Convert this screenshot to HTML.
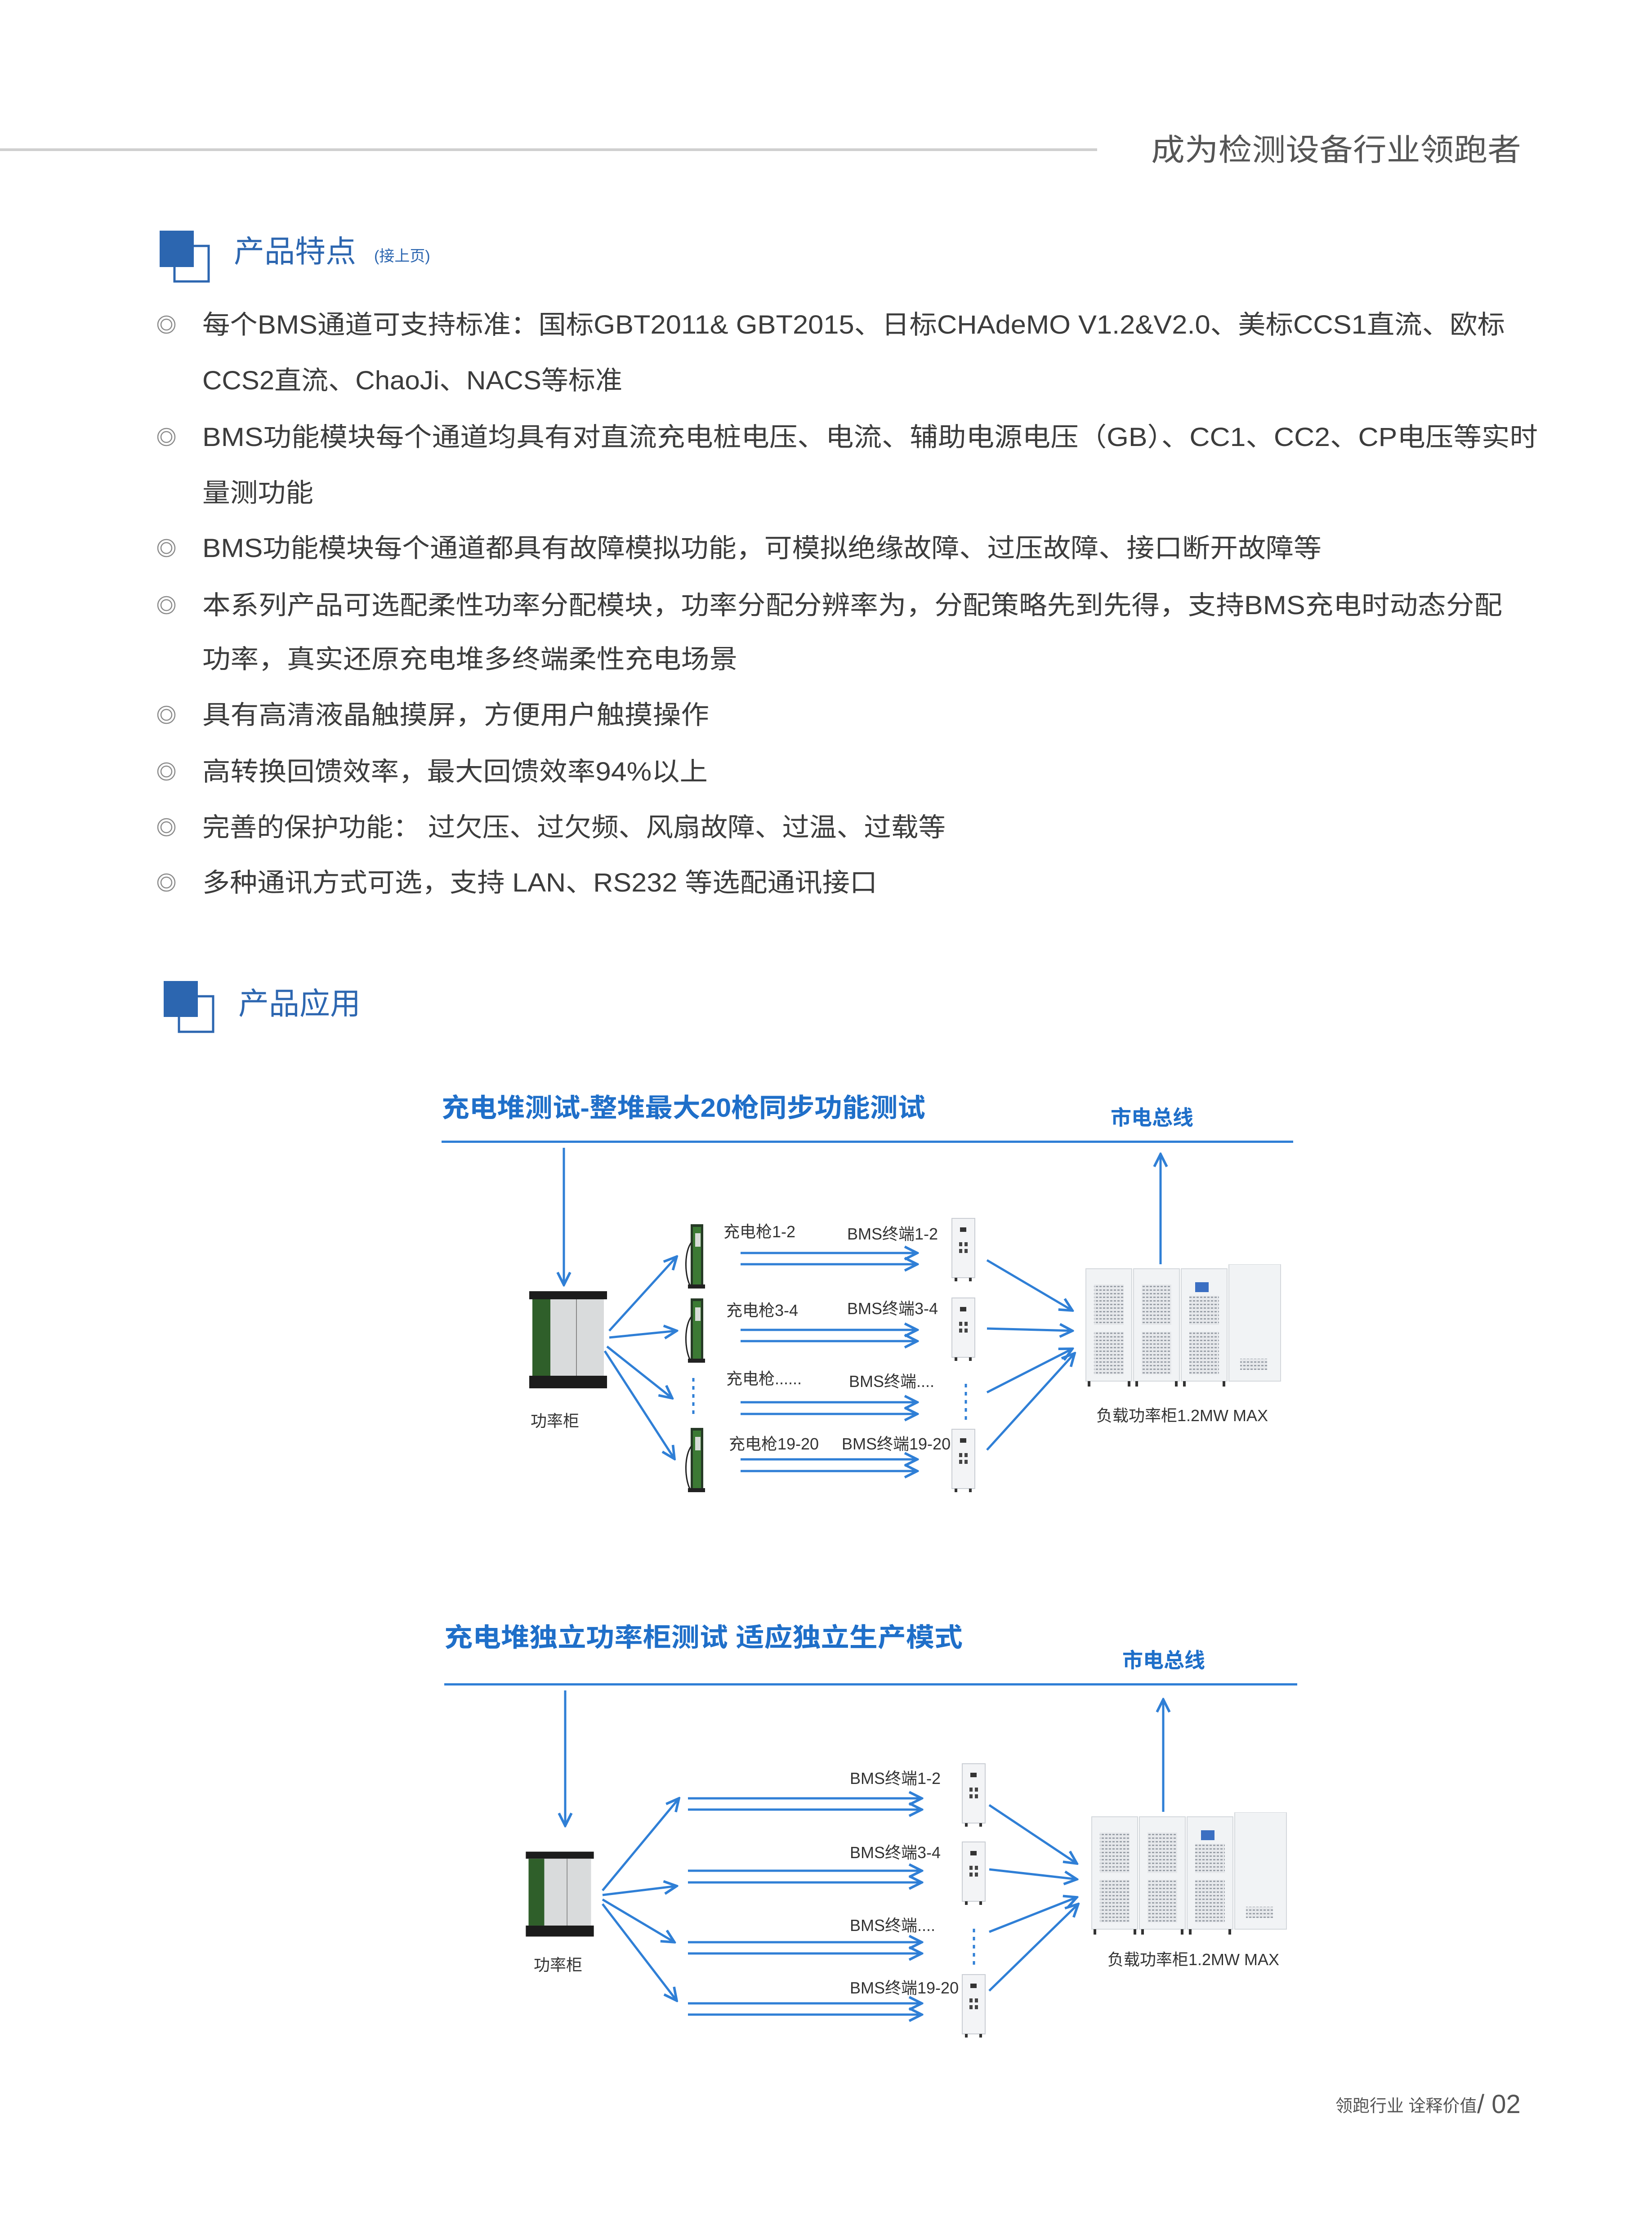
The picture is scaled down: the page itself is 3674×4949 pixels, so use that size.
<!DOCTYPE html>
<html><head><meta charset="utf-8"><style>
html,body{margin:0;padding:0;background:#fff}
svg{display:block}
text{font-family:"Liberation Sans","Noto Sans CJK SC",sans-serif}
</style></head><body>
<svg width="3674" height="4949" viewBox="0 0 3674 4949" xmlns="http://www.w3.org/2000/svg">
<defs>
<marker id="ah" viewBox="0 0 10 10" refX="9" refY="5" markerWidth="7" markerHeight="7" orient="auto" markerUnits="strokeWidth">
<path d="M1,1 L9,5 L1,9" fill="none" stroke="#2f7fd6" stroke-width="1.6"/></marker>
<pattern id="grid" width="8" height="8" patternUnits="userSpaceOnUse">
<rect width="8" height="8" fill="#e6e8eb"/><rect width="5" height="3" fill="#9aa0a8"/></pattern>
<symbol id="chg" viewBox="0 0 48 143" width="48" height="143">
<rect x="16" y="0" width="28" height="143" fill="#263a26"/>
<rect x="21" y="6" width="18" height="128" fill="#3c7a34"/>
<rect x="26" y="20" width="12" height="30" fill="#d8dcd8"/>
<path d="M18,40 C2,60 2,110 14,135" fill="none" stroke="#222" stroke-width="3"/>
<rect x="10" y="134" width="38" height="9" fill="#222"/>
</symbol>
<symbol id="bms" viewBox="0 0 55 142" width="55" height="142">
<rect x="2" y="2" width="51" height="132" fill="#f3f4f6" stroke="#c9cdd3" stroke-width="2"/>
<rect x="20" y="22" width="14" height="10" fill="#333"/>
<rect x="18" y="55" width="7" height="9" fill="#444"/><rect x="30" y="55" width="7" height="9" fill="#444"/>
<rect x="18" y="70" width="7" height="9" fill="#444"/><rect x="30" y="70" width="7" height="9" fill="#444"/>
<rect x="8" y="134" width="6" height="8" fill="#333"/><rect x="40" y="134" width="6" height="8" fill="#333"/>
</symbol>
<symbol id="pcab" viewBox="0 0 183 216" width="183" height="216">
<rect x="5" y="0" width="173" height="18" fill="#1c1c1c"/>
<rect x="12" y="18" width="159" height="170" fill="#d9dbdc"/>
<rect x="12" y="18" width="40" height="170" fill="#2f5f2a"/>
<line x1="110" y1="18" x2="110" y2="188" stroke="#888" stroke-width="2"/>
<rect x="5" y="188" width="173" height="28" fill="#1c1c1c"/>
</symbol>
<symbol id="load" viewBox="0 0 437 276" width="437" height="276">
<g fill="#f1f3f5" stroke="#d4d8dc" stroke-width="2">
<rect x="2" y="10" width="102" height="250"/><rect x="108" y="10" width="102" height="250"/>
<rect x="214" y="10" width="102" height="250"/><rect x="320" y="0" width="115" height="260"/></g>
<rect x="20" y="45" width="66" height="90" fill="url(#grid)"/><rect x="20" y="150" width="66" height="95" fill="url(#grid)"/>
<rect x="126" y="45" width="66" height="90" fill="url(#grid)"/><rect x="126" y="150" width="66" height="95" fill="url(#grid)"/>
<rect x="232" y="70" width="66" height="65" fill="url(#grid)"/><rect x="232" y="150" width="66" height="95" fill="url(#grid)"/>
<rect x="245" y="40" width="30" height="22" fill="#3b6fc2"/>
<rect x="345" y="210" width="60" height="25" fill="url(#grid)"/>
<g fill="#333"><rect x="6" y="260" width="6" height="12"/><rect x="95" y="260" width="6" height="12"/><rect x="112" y="260" width="6" height="12"/><rect x="200" y="260" width="6" height="12"/><rect x="218" y="260" width="6" height="12"/><rect x="306" y="260" width="6" height="12"/></g>
</symbol>
</defs>

<!-- header -->
<rect x="0" y="330" width="2440" height="6" fill="#cfcfcf"/>
<text x="2560" y="357" font-size="68" fill="#555" textLength="823" lengthAdjust="spacingAndGlyphs">成为检测设备行业领跑者</text>

<!-- section 1 -->
<rect x="388" y="547" width="76" height="79" fill="none" stroke="#2c66b0" stroke-width="5"/>
<rect x="355" y="513" width="76" height="81" fill="#2c66b0"/>
<text x="520" y="583" font-size="68" fill="#2c66b0">产品特点</text>
<text x="832" y="581" font-size="34" fill="#2c66b0">(接上页)</text>

<g font-size="58" fill="#3c3c3c">
<text x="450" y="742" textLength="2897" lengthAdjust="spacingAndGlyphs">每个BMS通道可支持标准：国标GBT2011&amp; GBT2015、日标CHAdeMO V1.2&amp;V2.0、美标CCS1直流、欧标</text>
<text x="450" y="866" textLength="934" lengthAdjust="spacingAndGlyphs">CCS2直流、ChaoJi、NACS等标准</text>
<text x="450" y="992" textLength="2970" lengthAdjust="spacingAndGlyphs">BMS功能模块每个通道均具有对直流充电桩电压、电流、辅助电源电压（GB）、CC1、CC2、CP电压等实时</text>
<text x="450" y="1116" textLength="247" lengthAdjust="spacingAndGlyphs">量测功能</text>
<text x="450" y="1239" textLength="2489" lengthAdjust="spacingAndGlyphs">BMS功能模块每个通道都具有故障模拟功能，可模拟绝缘故障、过压故障、接口断开故障等</text>
<text x="450" y="1366" textLength="2891" lengthAdjust="spacingAndGlyphs">本系列产品可选配柔性功率分配模块，功率分配分辨率为，分配策略先到先得，支持BMS充电时动态分配</text>
<text x="450" y="1486" textLength="1190" lengthAdjust="spacingAndGlyphs">功率，真实还原充电堆多终端柔性充电场景</text>
<text x="450" y="1610" textLength="1127" lengthAdjust="spacingAndGlyphs">具有高清液晶触摸屏，方便用户触摸操作</text>
<text x="450" y="1736" textLength="1124" lengthAdjust="spacingAndGlyphs">高转换回馈效率，最大回馈效率94%以上</text>
<text x="450" y="1860" textLength="1653" lengthAdjust="spacingAndGlyphs">完善的保护功能： 过欠压、过欠频、风扇故障、过温、过载等</text>
<text x="450" y="1983" textLength="1501" lengthAdjust="spacingAndGlyphs">多种通讯方式可选，支持 LAN、RS232 等选配通讯接口</text>
</g>
<g fill="none" stroke="#8a8a8a" stroke-width="2.5">
<circle cx="370" cy="722" r="19"/><circle cx="370" cy="722" r="12"/>
<circle cx="370" cy="972" r="19"/><circle cx="370" cy="972" r="12"/>
<circle cx="370" cy="1219" r="19"/><circle cx="370" cy="1219" r="12"/>
<circle cx="370" cy="1346" r="19"/><circle cx="370" cy="1346" r="12"/>
<circle cx="370" cy="1590" r="19"/><circle cx="370" cy="1590" r="12"/>
<circle cx="370" cy="1716" r="19"/><circle cx="370" cy="1716" r="12"/>
<circle cx="370" cy="1840" r="19"/><circle cx="370" cy="1840" r="12"/>
<circle cx="370" cy="1963" r="19"/><circle cx="370" cy="1963" r="12"/>
</g>

<!-- section 2 -->
<rect x="398" y="2216" width="76" height="79" fill="none" stroke="#2c66b0" stroke-width="5"/>
<rect x="364" y="2182" width="76" height="80" fill="#2c66b0"/>
<text x="530" y="2256" font-size="68" fill="#2c66b0">产品应用</text>

<!-- diagram 1 -->
<text x="982" y="2484" font-size="58" font-weight="bold" fill="#1f6fc9" textLength="1076" lengthAdjust="spacingAndGlyphs">充电堆测试-整堆最大20枪同步功能测试</text>
<text x="2470" y="2502" font-size="46" fill="#1f6fc9" font-weight="bold">市电总线</text>
<rect x="982" y="2537" width="1894" height="5" fill="#2f7fd6"/>
<g stroke="#2f7fd6" stroke-width="5" fill="none" marker-end="url(#ah)">
<line x1="1254" y1="2553" x2="1254" y2="2858"/>
<line x1="2581" y1="2812" x2="2581" y2="2567"/>
<line x1="1355" y1="2960" x2="1505" y2="2795"/>
<line x1="1355" y1="2975" x2="1505" y2="2960"/>
<line x1="1350" y1="2995" x2="1495" y2="3110"/>
<line x1="1345" y1="3005" x2="1500" y2="3245"/>
<line x1="1647" y1="2787" x2="2040" y2="2787"/><line x1="1647" y1="2812" x2="2040" y2="2812"/>
<line x1="1647" y1="2958" x2="2040" y2="2958"/><line x1="1647" y1="2983" x2="2040" y2="2983"/>
<line x1="1647" y1="3119" x2="2040" y2="3119"/><line x1="1647" y1="3145" x2="2040" y2="3145"/>
<line x1="1647" y1="3246" x2="2040" y2="3246"/><line x1="1647" y1="3272" x2="2040" y2="3272"/>
<line x1="2195" y1="2803" x2="2385" y2="2915"/>
<line x1="2195" y1="2955" x2="2385" y2="2960"/>
<line x1="2195" y1="3097" x2="2385" y2="3000"/>
<line x1="2195" y1="3225" x2="2390" y2="3010"/>
</g>
<g stroke="#2f7fd6" stroke-width="5" stroke-dasharray="8 10"><line x1="1542" y1="3065" x2="1542" y2="3150"/><line x1="2148" y1="3078" x2="2148" y2="3168"/></g>
<use href="#pcab" x="1172" y="2872"/>
<use href="#chg" x="1520" y="2723"/><use href="#chg" x="1520" y="2888"/><use href="#chg" x="1520" y="3176"/>
<use href="#bms" x="2115" y="2708"/><use href="#bms" x="2115" y="2885"/><use href="#bms" x="2115" y="3177"/>
<use href="#load" x="2413" y="2812"/>
<g font-size="36" fill="#333">
<text x="1180" y="3173">功率柜</text>
<text x="1609" y="2752">充电枪1-2</text><text x="1615" y="2927">充电枪3-4</text>
<text x="1615" y="3079">充电枪......</text><text x="1621" y="3224">充电枪19-20</text>
<text x="1884" y="2757">BMS终端1-2</text><text x="1884" y="2923">BMS终端3-4</text>
<text x="1888" y="3085">BMS终端....</text><text x="1872" y="3224">BMS终端19-20</text>
<text x="2438" y="3161">负载功率柜1.2MW MAX</text>
</g>

<!-- diagram 2 -->
<text x="988" y="3662" font-size="58" font-weight="bold" fill="#1f6fc9" textLength="1153" lengthAdjust="spacingAndGlyphs">充电堆独立功率柜测试   适应独立生产模式</text>
<text x="2496" y="3709" font-size="46" fill="#1f6fc9" font-weight="bold">市电总线</text>
<rect x="988" y="3744" width="1897" height="5" fill="#2f7fd6"/>
<g stroke="#2f7fd6" stroke-width="5" fill="none" marker-end="url(#ah)">
<line x1="1257" y1="3760" x2="1257" y2="4061"/>
<line x1="2587" y1="4030" x2="2587" y2="3780"/>
<line x1="1340" y1="4205" x2="1510" y2="4000"/>
<line x1="1340" y1="4215" x2="1505" y2="4195"/>
<line x1="1340" y1="4225" x2="1500" y2="4320"/>
<line x1="1340" y1="4235" x2="1505" y2="4450"/>
<line x1="1530" y1="4000" x2="2050" y2="4000"/><line x1="1530" y1="4025" x2="2050" y2="4025"/>
<line x1="1530" y1="4161" x2="2050" y2="4161"/><line x1="1530" y1="4187" x2="2050" y2="4187"/>
<line x1="1530" y1="4320" x2="2050" y2="4320"/><line x1="1530" y1="4345" x2="2050" y2="4345"/>
<line x1="1530" y1="4456" x2="2050" y2="4456"/><line x1="1530" y1="4481" x2="2050" y2="4481"/>
<line x1="2200" y1="4015" x2="2395" y2="4145"/>
<line x1="2200" y1="4158" x2="2395" y2="4180"/>
<line x1="2200" y1="4297" x2="2395" y2="4220"/>
<line x1="2200" y1="4428" x2="2398" y2="4235"/>
</g>
<g stroke="#2f7fd6" stroke-width="5" stroke-dasharray="8 10"><line x1="2166" y1="4290" x2="2166" y2="4370"/></g>
<use href="#pcab" x="1165" y="4105" width="160" height="216"/>
<use href="#bms" x="2138" y="3921"/><use href="#bms" x="2138" y="4095"/><use href="#bms" x="2138" y="4390"/>
<use href="#load" x="2426" y="4031"/>
<g font-size="36" fill="#333">
<text x="1187" y="4383">功率柜</text>
<text x="1890" y="3968">BMS终端1-2</text><text x="1890" y="4133">BMS终端3-4</text>
<text x="1890" y="4295">BMS终端....</text><text x="1890" y="4434">BMS终端19-20</text>
<text x="2463" y="4371">负载功率柜1.2MW MAX</text>
</g>

<!-- footer -->
<text x="2970" y="4697" font-size="38" fill="#555">领跑行业 诠释价值</text>
<text x="3285" y="4700" font-size="58" fill="#555">/ 02</text>
</svg>
</body></html>
